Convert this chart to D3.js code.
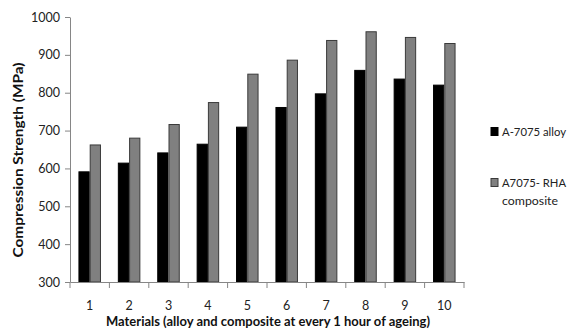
<!DOCTYPE html>
<html><head><meta charset="utf-8">
<script src="https://cdn.jsdelivr.net/npm/d3@7"></script>
<style>body{margin:0;background:#fff}svg{display:block}</style>
</head><body>
<svg id="c" width="571" height="330"></svg>
<script>
const categories = ["1","2","3","4","5","6","7","8","9","10"];
const seriesNames = ["A-7075 alloy", "A7075- RHA composite"];
const alloyValues = [591, 614, 641, 664, 709, 761, 797, 859, 836, 820];
const compositeValues = [662, 680, 716, 774, 849, 886, 938, 961, 946, 930];
const yTicks = [300, 400, 500, 600, 700, 800, 900, 1000];

(function () {
const svg = d3.select("#c");
const font = "Lato, 'Open Sans', 'Liberation Sans', sans-serif";
const mLeft = 70, mRight = 464, mTop = 17, mBottom = 282;

const x = d3.scaleBand().domain(categories).range([mLeft, mRight]).paddingInner(0).paddingOuter(0);
const y = d3.scaleLinear().domain([300, 1000]).range([mBottom, mTop]);
const bw = x.bandwidth() / 3.5;
const inner = d3.scaleBand().domain([0, 1]).range([0.75 * bw, 2.75 * bw]);

const series = [
  {name: seriesNames[0], values: alloyValues, fill: "#000000", stroke: "#000000"},
  {name: seriesNames[1], values: compositeValues, fill: "#808080", stroke: "#3a3a3a"}
];

series.forEach((s, si) => {
  svg.append("g").selectAll("rect").data(s.values).join("rect")
    .attr("x", (d, i) => x(categories[i]) + inner(si) + 0.5)
    .attr("y", d => y(d))
    .attr("width", inner.bandwidth() - 1)
    .attr("height", d => y(300) - y(d))
    .attr("fill", s.fill)
    .attr("stroke", s.stroke)
    .attr("stroke-width", 1);
});

const yAxis = svg.append("g").attr("transform", `translate(${mLeft},0)`)
  .call(d3.axisLeft(y).tickValues(yTicks).tickFormat(d3.format("d")).tickSize(5).tickSizeOuter(0).tickPadding(5));
const xAxis = svg.append("g").attr("transform", `translate(0,${mBottom})`)
  .call(d3.axisBottom(x).tickSize(0).tickPadding(19));
const bounds = categories.map(c => x(c)).concat([mRight]);
svg.append("g").selectAll("line").data(bounds).join("line")
  .attr("x1", d => d).attr("x2", d => d)
  .attr("y1", mBottom).attr("y2", mBottom + 6)
  .attr("stroke", "#868686");

[yAxis, xAxis].forEach(a => {
  a.selectAll(".domain").attr("stroke", "#868686");
  a.selectAll(".tick line").attr("stroke", "#868686");
  a.selectAll("text").attr("font-family", font).attr("font-size", 12.5).attr("fill", "#222");
});

function fitText(sel, w) {
  sel.attr("textLength", w).attr("lengthAdjust", "spacingAndGlyphs");
}
const xt = svg.append("text").attr("x", 268).attr("y", 326).attr("text-anchor", "middle")
  .attr("font-family", font).attr("font-weight", "bold").attr("font-size", 12.5).attr("fill", "#111")
  .text("Materials (alloy and composite at every 1 hour of ageing)");
fitText(xt, 324);
const yt = svg.append("text").attr("transform", "translate(23,160) rotate(-90)").attr("text-anchor", "middle")
  .attr("font-family", font).attr("font-weight", "bold").attr("font-size", 12.5).attr("fill", "#111")
  .text("Compression Strength (MPa)");
fitText(yt, 195);

const lg = svg.append("g");
const lfs = 11.5;
lg.append("rect").attr("x", 491).attr("y", 127.5).attr("width", 7).attr("height", 8)
  .attr("fill", series[0].fill).attr("stroke", series[0].stroke);
fitText(lg.append("text").attr("x", 502).attr("y", 136).attr("font-family", font).attr("font-size", lfs).attr("fill", "#222")
  .text("A-7075 alloy"), 64);
lg.append("rect").attr("x", 491).attr("y", 178.5).attr("width", 7).attr("height", 8)
  .attr("fill", series[1].fill).attr("stroke", series[1].stroke);
fitText(lg.append("text").attr("x", 502).attr("y", 187).attr("font-family", font).attr("font-size", lfs).attr("fill", "#222")
  .text("A7075- RHA"), 64);
fitText(lg.append("text").attr("x", 502).attr("y", 205).attr("font-family", font).attr("font-size", lfs).attr("fill", "#222")
  .text("composite"), 56);
})();
</script>
</body></html>
